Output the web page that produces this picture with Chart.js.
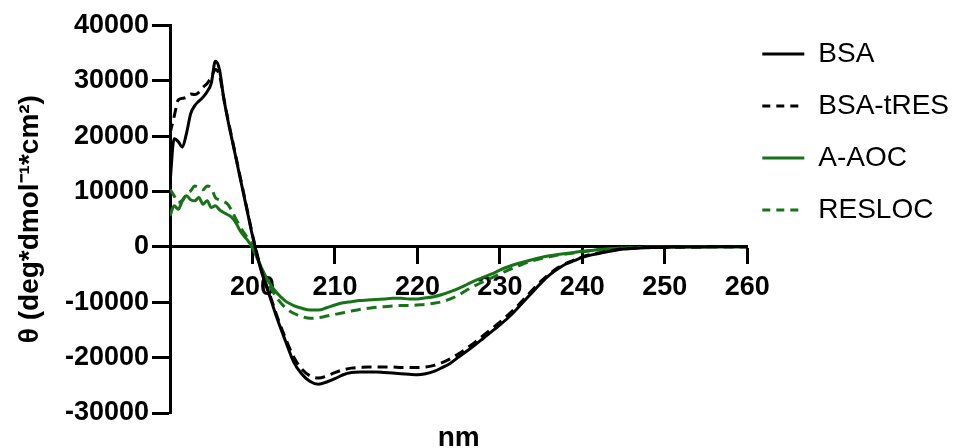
<!DOCTYPE html>
<html><head><meta charset="utf-8">
<script src="https://cdn.jsdelivr.net/npm/chart.js@4"></script>
<style>html,body{margin:0;padding:0;background:#fff;}canvas{display:block;}</style>
</head><body>
<canvas id="c" width="970" height="448"></canvas>
<script>
const wavelengths = [190,190.5,191,191.5,192,192.5,193,193.5,194,194.5,195,195.5,196,196.5,197,197.5,198,198.5,199,199.5,200,
  201,202,203,204,205,206,207,208,209,210,211,212,213,214,215,216,217,218,219,220,
  221,222,223,224,225,226,227,228,229,230,231,232,233,234,235,236,237,238,239,240,
  241,242,243,244,245,246,247,248,249,250,251,252,253,254,255,256,257,258,259,260];

const bsa = [11500,19500,19000,18000,20500,24000,25500,26300,27000,28000,29500,33500,32000,27000,23000,19500,16000,12500,9000,5500,2000,
  -4000,-8500,-13000,-17000,-20800,-23000,-24300,-24800,-24400,-23800,
  -23100,-22700,-22600,-22600,-22600,-22700,-22800,-22900,-23000,-23100,
  -22900,-22500,-21800,-21000,-19900,-18800,-17700,-16500,-15300,-14100,
  -12800,-11300,-9700,-8100,-6500,-5100,-4000,-3100,-2500,-1900,
  -1500,-1200,-900,-600,-400,-300,-200,-150,-100,-60,
  -40,-30,-20,-10,-10,0,0,0,0,0];

const bsaTres = [20500,23500,26500,26800,27000,27600,27500,27900,28800,29500,30600,32000,31000,27000,23200,19700,16200,12700,9200,5700,2200,
  -3800,-8200,-12600,-16500,-19900,-22100,-23300,-23700,-23300,-22700,
  -22200,-21900,-21800,-21700,-21700,-21700,-21700,-21800,-21800,-21800,
  -21700,-21400,-20900,-20200,-19300,-18300,-17200,-16000,-14800,-13600,
  -12300,-10900,-9300,-7700,-6200,-4900,-3800,-3000,-2400,-1800,
  -1400,-1100,-800,-550,-350,-250,-150,-100,-80,-50,
  -30,-20,-10,-10,0,0,0,0,0,0];

const aAoc = [5600,7400,6800,8300,9200,8500,8300,8900,7700,8300,7100,7400,6700,6200,5800,5300,4300,2900,1900,1000,-200,
  -3500,-6400,-8400,-9800,-10600,-11100,-11400,-11400,-11000,-10500,
  -10100,-9900,-9700,-9600,-9500,-9400,-9300,-9300,-9400,-9400,
  -9200,-9000,-8600,-8100,-7500,-6800,-6100,-5500,-4900,-4200,
  -3600,-3100,-2700,-2300,-1900,-1600,-1400,-1200,-1000,-800,
  -650,-500,-400,-300,-220,-150,-100,-70,-50,-30,
  -20,-10,0,0,0,0,0,0,0,0];

const resloc = [10400,9200,8000,8400,9500,10100,11000,10700,10300,11000,10600,8900,8500,8200,7700,6500,5000,3600,2500,1400,300,
  -3500,-6800,-9300,-11000,-12000,-12600,-12900,-12800,-12500,-12200,
  -11900,-11600,-11300,-11100,-10900,-10800,-10700,-10600,-10600,-10500,
  -10400,-10200,-9900,-9400,-8700,-7800,-7000,-6300,-5600,-4900,
  -4200,-3600,-3000,-2500,-2100,-1800,-1500,-1300,-1100,-900,
  -700,-550,-420,-320,-230,-160,-110,-80,-50,-30,
  -20,-10,0,0,0,0,0,0,0,0];

const seriesNames = ['BSA', 'BSA-tRES', 'A-AOC', 'RESLOC'];
const xTicks = [200, 210, 220, 230, 240, 250, 260];
const yTicks = [-30000, -20000, -10000, 0, 10000, 20000, 30000, 40000];
const xTitle = 'nm';
const yTitle = 'θ (deg*dmol⁻¹*cm²)';

Chart.defaults.font.family = "'Liberation Sans', Arial, sans-serif";
Chart.defaults.color = '#000';
const green = '#177317';
const toPts = ys => wavelengths.map((x, i) => ({x: x, y: ys[i]}));

const legendShift = {
  id: 'legendShift',
  afterLayout(chart) {
    const l = chart.legend;
    if (l) { l.left -= 9; l.right -= 9; }
  }
};

new Chart(document.getElementById('c'), {
  type: 'line',
  plugins: [legendShift],
  data: {
    datasets: [
      {label: seriesNames[0], data: toPts(bsa), borderColor: '#000', backgroundColor: '#000', borderWidth: 3, borderDash: []},
      {label: seriesNames[1], data: toPts(bsaTres), borderColor: '#000', backgroundColor: '#000', borderWidth: 3, borderDash: [10, 6]},
      {label: seriesNames[2], data: toPts(aAoc), borderColor: green, backgroundColor: green, borderWidth: 3, borderDash: []},
      {label: seriesNames[3], data: toPts(resloc), borderColor: green, backgroundColor: green, borderWidth: 3, borderDash: [10, 6]}
    ]
  },
  options: {
    responsive: false,
    animation: false,
    layout: {padding: {top: 16, right: 2, left: 0, bottom: 0}},
    elements: {line: {tension: 0, cubicInterpolationMode: 'monotone', fill: false}, point: {radius: 0}},
    plugins: {
      legend: {
        position: 'right', align: 'start',
        labels: {
          usePointStyle: true, pointStyle: 'line', pointStyleWidth: 42, padding: 24, font: {size: 28}, color: '#000',
          generateLabels: chart => {
            const items = Chart.defaults.plugins.legend.labels.generateLabels(chart);
            items.forEach(it => {
              const ds = chart.data.datasets[it.datasetIndex];
              it.lineDash = [8, 6];
              if (!ds.borderDash || ds.borderDash.length === 0) it.lineDash = [];
              it.lineWidth = 3;
              it.strokeStyle = ds.borderColor;
              it.fillStyle = ds.borderColor;
              it.pointStyle = 'line';
            });
            return items;
          }
        }
      },
      tooltip: {enabled: false}
    },
    scales: {
      x: {
        type: 'linear', min: 190, max: 260, position: {y: 0},
        afterBuildTicks: s => { s.ticks = xTicks.map(v => ({value: v})); },
        ticks: {font: {size: 27, weight: 'bold'}, color: '#000', padding: 9, maxRotation: 0, autoSkip: false, callback: v => String(v)},
        grid: {drawOnChartArea: false, tickLength: 16, tickWidth: 3, color: '#000'},
        border: {color: '#000', width: 3}
      },
      x2: {
        type: 'linear', min: 190, max: 260, position: 'bottom',
        ticks: {display: false}, grid: {display: false}, border: {display: false},
        title: {display: true, text: xTitle, font: {size: 28, weight: 'bold', lineHeight: 0.72}, padding: 0, color: '#000'},
        afterFit: s => { s.height = 35; }
      },
      y: {
        type: 'linear', min: -30000, max: 40000, position: 'left',
        afterBuildTicks: s => { s.ticks = yTicks.map(v => ({value: v})); },
        ticks: {font: {size: 27, weight: 'bold', lineHeight: 1.65}, color: '#000', padding: 3, callback: v => String(v)},
        grid: {drawOnChartArea: false, tickLength: 18, tickWidth: 3, color: '#000'},
        border: {color: '#000', width: 3},
        title: {display: true, text: yTitle, font: {size: 28, weight: 'bold'}, padding: {top: 13, bottom: 0}, color: '#000'},
        afterFit: s => { s.width = 170; }
      }
    }
  }
});
</script>
</body></html>
